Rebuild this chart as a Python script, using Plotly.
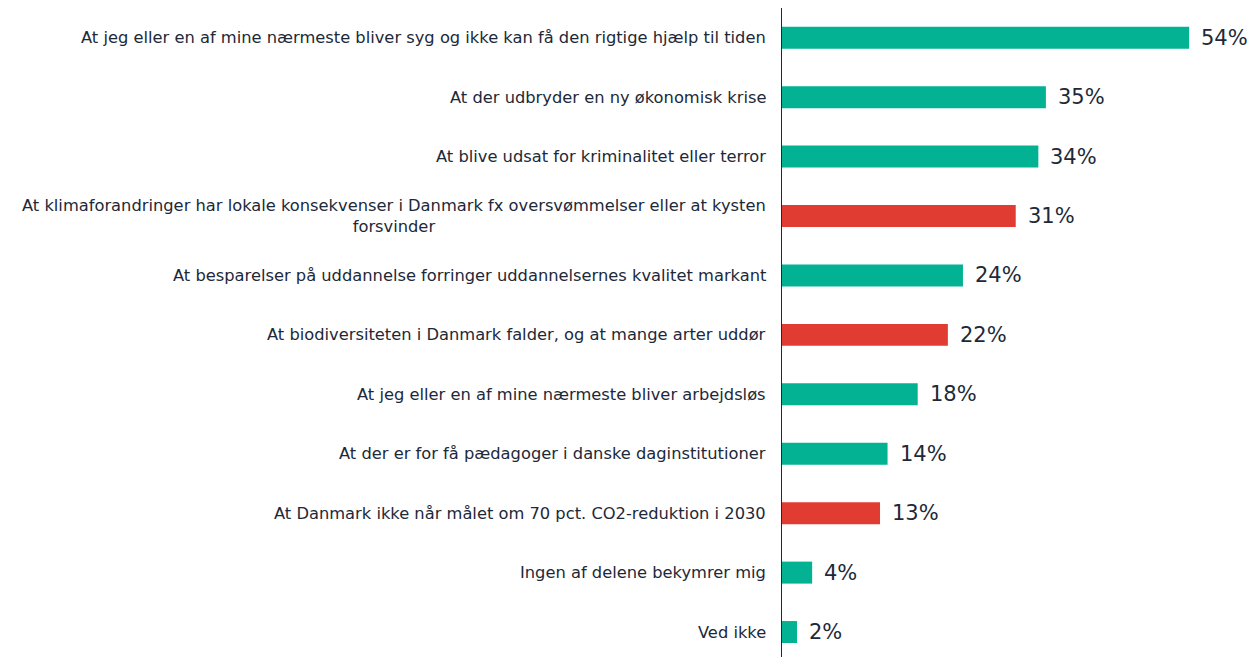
import plotly.graph_objects as go

# ---------- data ----------
categories = [
    "At jeg eller en af mine nærmeste bliver syg og ikke kan få den rigtige hjælp til tiden",
    "At der udbryder en ny økonomisk krise",
    "At blive udsat for kriminalitet eller terror",
    "At klimaforandringer har lokale konsekvenser i Danmark fx oversvømmelser eller at kysten<br>forsvinder",
    "At besparelser på uddannelse forringer uddannelsernes kvalitet markant",
    "At biodiversiteten i Danmark falder, og at mange arter uddør",
    "At jeg eller en af mine nærmeste bliver arbejdsløs",
    "At der er for få pædagoger i danske daginstitutioner",
    "At Danmark ikke når målet om 70 pct. CO2-reduktion i 2030",
    "Ingen af delene bekymrer mig",
    "Ved ikke",
]
values = [54, 35, 34, 31, 24, 22, 18, 14, 13, 4, 2]
is_climate = [False, False, False, True, False, True, False, False, True, False, False]

GREEN = "#03B292"
RED = "#E03C31"
TEXT = "#1d2939"
FONT = "DejaVu Sans"

colors = [RED if c else GREEN for c in is_climate]

fig = go.Figure(
    go.Bar(
        x=values,
        y=categories,
        orientation="h",
        marker=dict(color=colors, line=dict(width=0)),
        width=0.37,
        hoverinfo="skip",
    )
)

# category labels (centered multi-line, right-aligned to axis)
for cat in categories:
    fig.add_annotation(
        x=0, y=cat, xref="x", yref="y",
        text=cat, showarrow=False,
        xanchor="right", align="center",
        xshift=-14,
        font=dict(family=FONT, size=16.3, color=TEXT),
    )

# value labels
for cat, v in zip(categories, values):
    fig.add_annotation(
        x=v, y=cat, xref="x", yref="y",
        text=f"{v}%", showarrow=False,
        xanchor="left", xshift=10,
        font=dict(family=FONT, size=21, color=TEXT),
    )

# page body has an 8px margin, so the figure is sized to fit inside it
fig.update_layout(
    width=1249,
    height=649,
    margin=dict(l=774, r=0, t=0, b=0),
    plot_bgcolor="white",
    paper_bgcolor="white",
    showlegend=False,
)

fig.update_xaxes(
    range=[0, 63],
    showgrid=False,
    zeroline=False,
    showticklabels=False,
    showline=False,
    ticks="",
)

fig.update_yaxes(
    type="category",
    categoryorder="array",
    categoryarray=categories,
    range=[10.42, -0.5],
    showticklabels=False,
    showgrid=False,
    zeroline=False,
    showline=True,
    linecolor=TEXT,
    linewidth=1,
    ticks="",
)

fig.write_html("out.html")
